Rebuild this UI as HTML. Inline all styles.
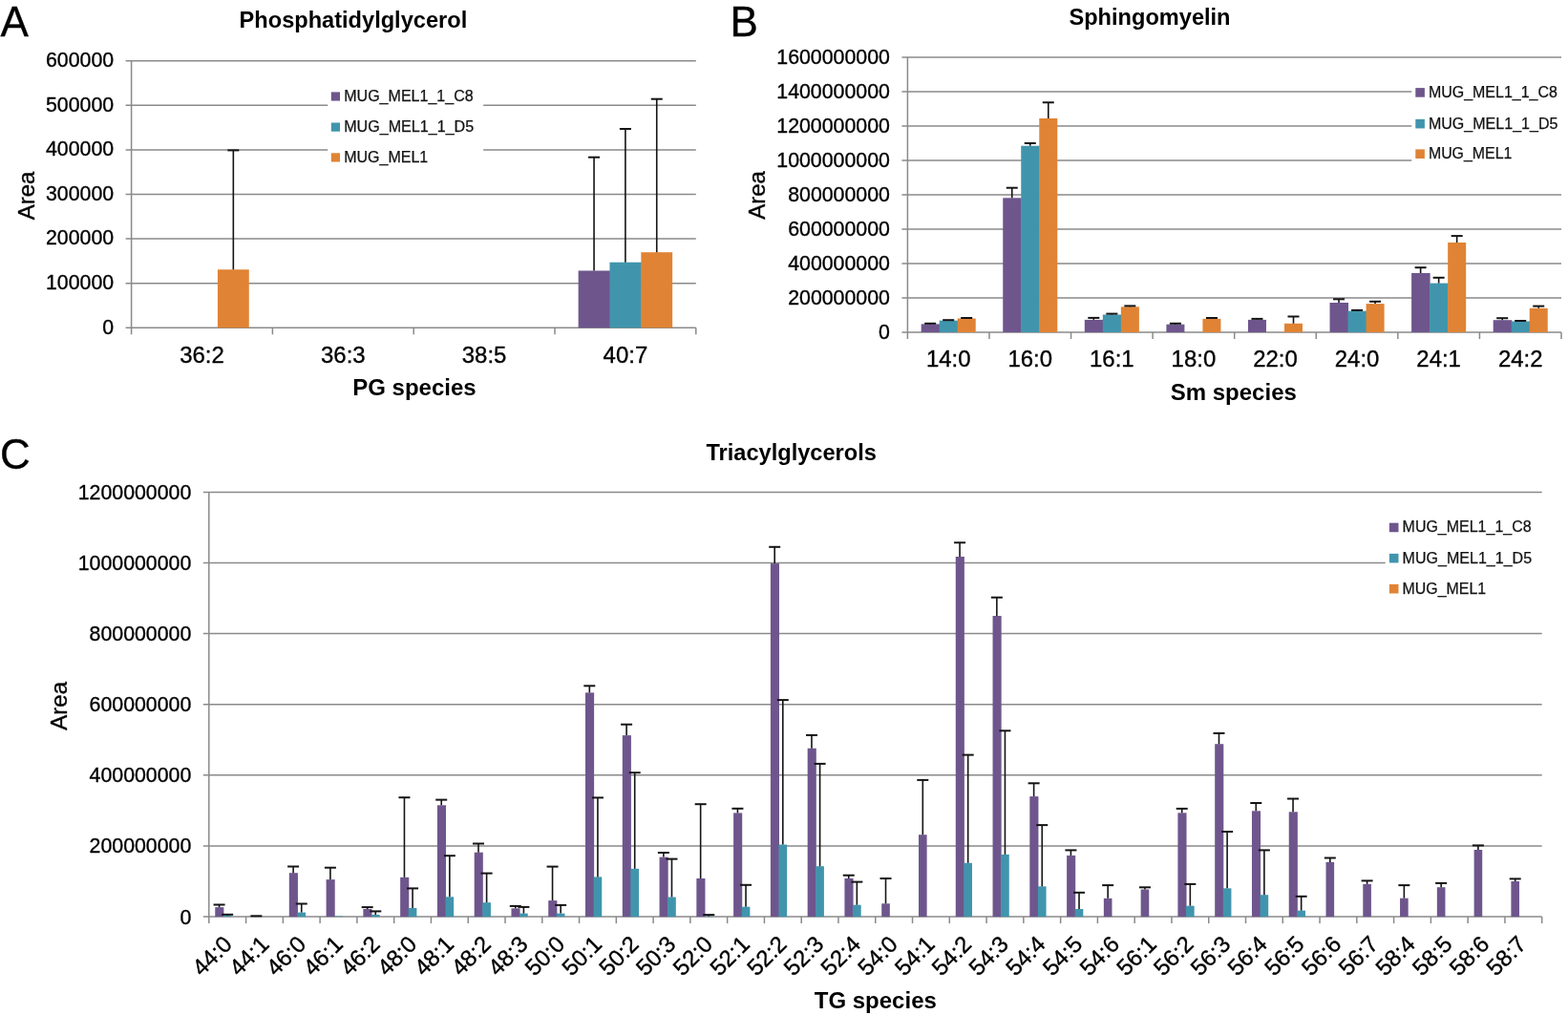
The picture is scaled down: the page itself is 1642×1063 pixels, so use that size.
<!DOCTYPE html><html><head><meta charset="utf-8"><title>Lipid species figure</title><style>html,body{margin:0;padding:0;background:#fff;width:1642px;height:1063px;overflow:hidden}svg{display:block}text{font-family:"Liberation Sans",Arial,sans-serif;fill:#000}.t,.tx,.tr,.ax,.p{stroke:#000;stroke-width:0.35px}.t{font-size:22px}.tx{font-size:24.2px}.tr{font-size:24px}.b{font-size:24px;font-weight:bold}.bt{font-size:23.6px;font-weight:bold}.ax{font-size:24px}.p{font-size:44px}.l{font-size:16px;fill:#111;stroke:#111;stroke-width:0.25px}.g{stroke:#8a8a8a;stroke-width:1.5;fill:none}.e{stroke:#141414;stroke-width:1.6}.ec{stroke:#141414;stroke-width:2}</style></head><body>
<svg width="1642" height="1063" viewBox="0 0 1642 1063">
<rect width="1642" height="1063" fill="#fff"/>
<line x1="131.6" y1="296.7" x2="728.8" y2="296.7" class="g"/>
<line x1="131.6" y1="250.1" x2="728.8" y2="250.1" class="g"/>
<line x1="131.6" y1="203.5" x2="728.8" y2="203.5" class="g"/>
<line x1="131.6" y1="156.9" x2="728.8" y2="156.9" class="g"/>
<line x1="131.6" y1="110.3" x2="728.8" y2="110.3" class="g"/>
<line x1="131.6" y1="63.7" x2="728.8" y2="63.7" class="g"/>
<line x1="131.6" y1="343.3" x2="728.8" y2="343.3" class="g"/>
<line x1="137.6" y1="63.7" x2="137.6" y2="350.3" class="g"/>
<line x1="285.4" y1="343.3" x2="285.4" y2="350.3" class="g"/>
<line x1="433.2" y1="343.3" x2="433.2" y2="350.3" class="g"/>
<line x1="581" y1="343.3" x2="581" y2="350.3" class="g"/>
<line x1="728.8" y1="343.3" x2="728.8" y2="350.3" class="g"/>
<text transform="translate(119.1 349.5) scale(0.97 1)" class="t" text-anchor="end">0</text>
<text transform="translate(119.1 302.9) scale(0.97 1)" class="t" text-anchor="end">100000</text>
<text transform="translate(119.1 256.3) scale(0.97 1)" class="t" text-anchor="end">200000</text>
<text transform="translate(119.1 209.7) scale(0.97 1)" class="t" text-anchor="end">300000</text>
<text transform="translate(119.1 163.1) scale(0.97 1)" class="t" text-anchor="end">400000</text>
<text transform="translate(119.1 116.5) scale(0.97 1)" class="t" text-anchor="end">500000</text>
<text transform="translate(119.1 69.9) scale(0.97 1)" class="t" text-anchor="end">600000</text>
<rect x="227.92" y="282.3" width="32.84" height="61" fill="#e08334"/>
<line x1="244.34" y1="282.3" x2="244.34" y2="157.4" class="e"/>
<line x1="238.34" y1="157.4" x2="250.34" y2="157.4" class="ec"/>
<rect x="605.63" y="283.5" width="33.34" height="59.8" fill="#6e568d"/>
<line x1="622.06" y1="283.5" x2="622.06" y2="164.7" class="e"/>
<line x1="616.06" y1="164.7" x2="628.06" y2="164.7" class="ec"/>
<rect x="638.48" y="274.7" width="33.34" height="68.6" fill="#4095ad"/>
<line x1="654.9" y1="274.7" x2="654.9" y2="135" class="e"/>
<line x1="648.9" y1="135" x2="660.9" y2="135" class="ec"/>
<rect x="671.32" y="264.2" width="32.84" height="79.1" fill="#e08334"/>
<line x1="687.74" y1="264.2" x2="687.74" y2="103.7" class="e"/>
<line x1="681.74" y1="103.7" x2="693.74" y2="103.7" class="ec"/>
<text transform="translate(211.5 380) scale(0.99 1)" class="tx" text-anchor="middle">36:2</text>
<text transform="translate(359.3 380) scale(0.99 1)" class="tx" text-anchor="middle">36:3</text>
<text transform="translate(507.1 380) scale(0.99 1)" class="tx" text-anchor="middle">38:5</text>
<text transform="translate(654.9 380) scale(0.99 1)" class="tx" text-anchor="middle">40:7</text>
<rect x="343.2" y="80" width="163" height="105" fill="#fff"/>
<rect x="346.8" y="96.4" width="9.2" height="9.2" fill="#6e568d"/>
<text x="360.2" y="105.6" class="l" textLength="135.5" lengthAdjust="spacingAndGlyphs">MUG_MEL1_1_C8</text>
<rect x="346.8" y="128.5" width="9.2" height="9.2" fill="#4095ad"/>
<text x="360.2" y="137.7" class="l" textLength="136" lengthAdjust="spacingAndGlyphs">MUG_MEL1_1_D5</text>
<rect x="346.8" y="160.3" width="9.2" height="9.2" fill="#e08334"/>
<text x="360.2" y="169.5" class="l" textLength="88" lengthAdjust="spacingAndGlyphs">MUG_MEL1</text>
<text x="0.5" y="37.8" class="p">A</text>
<text x="369.9" y="29" class="bt" text-anchor="middle">Phosphatidylglycerol</text>
<text x="433.9" y="414" class="b" text-anchor="middle">PG species</text>
<text x="36.2" y="204.9" class="ax" text-anchor="middle" transform="rotate(-90 36.2 204.9)">Area</text>
<line x1="944.4" y1="312" x2="1635" y2="312" class="g"/>
<line x1="944.4" y1="276" x2="1635" y2="276" class="g"/>
<line x1="944.4" y1="240" x2="1635" y2="240" class="g"/>
<line x1="944.4" y1="204" x2="1635" y2="204" class="g"/>
<line x1="944.4" y1="168" x2="1635" y2="168" class="g"/>
<line x1="944.4" y1="132" x2="1635" y2="132" class="g"/>
<line x1="944.4" y1="96" x2="1635" y2="96" class="g"/>
<line x1="944.4" y1="60" x2="1635" y2="60" class="g"/>
<line x1="944.4" y1="348" x2="1635" y2="348" class="g"/>
<line x1="950.4" y1="60" x2="950.4" y2="355" class="g"/>
<line x1="1035.97" y1="348" x2="1035.97" y2="355" class="g"/>
<line x1="1121.55" y1="348" x2="1121.55" y2="355" class="g"/>
<line x1="1207.12" y1="348" x2="1207.12" y2="355" class="g"/>
<line x1="1292.7" y1="348" x2="1292.7" y2="355" class="g"/>
<line x1="1378.28" y1="348" x2="1378.28" y2="355" class="g"/>
<line x1="1463.85" y1="348" x2="1463.85" y2="355" class="g"/>
<line x1="1549.42" y1="348" x2="1549.42" y2="355" class="g"/>
<line x1="1635" y1="348" x2="1635" y2="355" class="g"/>
<text transform="translate(931.9 355.4) scale(0.97 1)" class="t" text-anchor="end">0</text>
<text transform="translate(931.9 319.4) scale(0.97 1)" class="t" text-anchor="end">200000000</text>
<text transform="translate(931.9 283.4) scale(0.97 1)" class="t" text-anchor="end">400000000</text>
<text transform="translate(931.9 247.4) scale(0.97 1)" class="t" text-anchor="end">600000000</text>
<text transform="translate(931.9 211.4) scale(0.97 1)" class="t" text-anchor="end">800000000</text>
<text transform="translate(931.9 175.4) scale(0.97 1)" class="t" text-anchor="end">1000000000</text>
<text transform="translate(931.9 139.4) scale(0.97 1)" class="t" text-anchor="end">1200000000</text>
<text transform="translate(931.9 103.4) scale(0.97 1)" class="t" text-anchor="end">1400000000</text>
<text transform="translate(931.9 67.4) scale(0.97 1)" class="t" text-anchor="end">1600000000</text>
<rect x="964.66" y="339.4" width="19.52" height="8.6" fill="#6e568d"/>
<line x1="974.17" y1="339.4" x2="974.17" y2="338.8" class="e"/>
<line x1="968.17" y1="338.8" x2="980.17" y2="338.8" class="ec"/>
<rect x="983.68" y="335.7" width="19.52" height="12.3" fill="#4095ad"/>
<line x1="993.19" y1="335.7" x2="993.19" y2="335.2" class="e"/>
<line x1="987.19" y1="335.2" x2="999.19" y2="335.2" class="ec"/>
<rect x="1002.7" y="333.5" width="19.02" height="14.5" fill="#e08334"/>
<line x1="1012.2" y1="333.5" x2="1012.2" y2="333" class="e"/>
<line x1="1006.2" y1="333" x2="1018.2" y2="333" class="ec"/>
<rect x="1050.24" y="207.3" width="19.52" height="140.7" fill="#6e568d"/>
<line x1="1059.75" y1="207.3" x2="1059.75" y2="196.7" class="e"/>
<line x1="1053.75" y1="196.7" x2="1065.75" y2="196.7" class="ec"/>
<rect x="1069.25" y="152.7" width="19.52" height="195.3" fill="#4095ad"/>
<line x1="1078.76" y1="152.7" x2="1078.76" y2="150" class="e"/>
<line x1="1072.76" y1="150" x2="1084.76" y2="150" class="ec"/>
<rect x="1088.27" y="124" width="19.02" height="224" fill="#e08334"/>
<line x1="1097.78" y1="124" x2="1097.78" y2="107.3" class="e"/>
<line x1="1091.78" y1="107.3" x2="1103.78" y2="107.3" class="ec"/>
<rect x="1135.81" y="334.9" width="19.52" height="13.1" fill="#6e568d"/>
<line x1="1145.32" y1="334.9" x2="1145.32" y2="332.9" class="e"/>
<line x1="1139.32" y1="332.9" x2="1151.32" y2="332.9" class="ec"/>
<rect x="1154.83" y="329.5" width="19.52" height="18.5" fill="#4095ad"/>
<line x1="1164.34" y1="329.5" x2="1164.34" y2="328.6" class="e"/>
<line x1="1158.34" y1="328.6" x2="1170.34" y2="328.6" class="ec"/>
<rect x="1173.85" y="321.3" width="19.02" height="26.7" fill="#e08334"/>
<line x1="1183.35" y1="321.3" x2="1183.35" y2="320.4" class="e"/>
<line x1="1177.35" y1="320.4" x2="1189.35" y2="320.4" class="ec"/>
<rect x="1221.39" y="339.7" width="19.02" height="8.3" fill="#6e568d"/>
<line x1="1230.9" y1="339.7" x2="1230.9" y2="338.8" class="e"/>
<line x1="1224.9" y1="338.8" x2="1236.9" y2="338.8" class="ec"/>
<rect x="1259.42" y="333.9" width="19.02" height="14.1" fill="#e08334"/>
<line x1="1268.93" y1="333.9" x2="1268.93" y2="333" class="e"/>
<line x1="1262.93" y1="333" x2="1274.93" y2="333" class="ec"/>
<rect x="1306.96" y="334.9" width="19.02" height="13.1" fill="#6e568d"/>
<line x1="1316.47" y1="334.9" x2="1316.47" y2="333.9" class="e"/>
<line x1="1310.47" y1="333.9" x2="1322.47" y2="333.9" class="ec"/>
<rect x="1345" y="338.8" width="19.02" height="9.2" fill="#e08334"/>
<line x1="1354.5" y1="338.8" x2="1354.5" y2="331.5" class="e"/>
<line x1="1348.5" y1="331.5" x2="1360.5" y2="331.5" class="ec"/>
<rect x="1392.54" y="317" width="19.52" height="31" fill="#6e568d"/>
<line x1="1402.05" y1="317" x2="1402.05" y2="313.3" class="e"/>
<line x1="1396.05" y1="313.3" x2="1408.05" y2="313.3" class="ec"/>
<rect x="1411.55" y="325.7" width="19.52" height="22.3" fill="#4095ad"/>
<line x1="1421.06" y1="325.7" x2="1421.06" y2="324.9" class="e"/>
<line x1="1415.06" y1="324.9" x2="1427.06" y2="324.9" class="ec"/>
<rect x="1430.57" y="318.1" width="19.02" height="29.9" fill="#e08334"/>
<line x1="1440.08" y1="318.1" x2="1440.08" y2="315.8" class="e"/>
<line x1="1434.08" y1="315.8" x2="1446.08" y2="315.8" class="ec"/>
<rect x="1478.11" y="286" width="19.52" height="62" fill="#6e568d"/>
<line x1="1487.62" y1="286" x2="1487.62" y2="280.2" class="e"/>
<line x1="1481.62" y1="280.2" x2="1493.62" y2="280.2" class="ec"/>
<rect x="1497.13" y="296.6" width="19.52" height="51.4" fill="#4095ad"/>
<line x1="1506.64" y1="296.6" x2="1506.64" y2="290.8" class="e"/>
<line x1="1500.64" y1="290.8" x2="1512.64" y2="290.8" class="ec"/>
<rect x="1516.15" y="254" width="19.02" height="94" fill="#e08334"/>
<line x1="1525.65" y1="254" x2="1525.65" y2="247.1" class="e"/>
<line x1="1519.65" y1="247.1" x2="1531.65" y2="247.1" class="ec"/>
<rect x="1563.69" y="335.2" width="19.52" height="12.8" fill="#6e568d"/>
<line x1="1573.2" y1="335.2" x2="1573.2" y2="333.2" class="e"/>
<line x1="1567.2" y1="333.2" x2="1579.2" y2="333.2" class="ec"/>
<rect x="1582.7" y="336.5" width="19.52" height="11.5" fill="#4095ad"/>
<line x1="1592.21" y1="336.5" x2="1592.21" y2="336" class="e"/>
<line x1="1586.21" y1="336" x2="1598.21" y2="336" class="ec"/>
<rect x="1601.72" y="322.8" width="19.02" height="25.2" fill="#e08334"/>
<line x1="1611.23" y1="322.8" x2="1611.23" y2="320.6" class="e"/>
<line x1="1605.23" y1="320.6" x2="1617.23" y2="320.6" class="ec"/>
<text transform="translate(993.19 384.2) scale(0.99 1)" class="tx" text-anchor="middle">14:0</text>
<text transform="translate(1078.76 384.2) scale(0.99 1)" class="tx" text-anchor="middle">16:0</text>
<text transform="translate(1164.34 384.2) scale(0.99 1)" class="tx" text-anchor="middle">16:1</text>
<text transform="translate(1249.91 384.2) scale(0.99 1)" class="tx" text-anchor="middle">18:0</text>
<text transform="translate(1335.49 384.2) scale(0.99 1)" class="tx" text-anchor="middle">22:0</text>
<text transform="translate(1421.06 384.2) scale(0.99 1)" class="tx" text-anchor="middle">24:0</text>
<text transform="translate(1506.64 384.2) scale(0.99 1)" class="tx" text-anchor="middle">24:1</text>
<text transform="translate(1592.21 384.2) scale(0.99 1)" class="tx" text-anchor="middle">24:2</text>
<rect x="1478.3" y="75" width="163.7" height="105" fill="#fff"/>
<rect x="1482.3" y="92.1" width="9.6" height="9.6" fill="#6e568d"/>
<text x="1495.9" y="102" class="l" textLength="135" lengthAdjust="spacingAndGlyphs">MUG_MEL1_1_C8</text>
<rect x="1482.3" y="124.85" width="9.6" height="9.6" fill="#4095ad"/>
<text x="1495.9" y="134.75" class="l" textLength="135.5" lengthAdjust="spacingAndGlyphs">MUG_MEL1_1_D5</text>
<rect x="1482.3" y="156.4" width="9.6" height="9.6" fill="#e08334"/>
<text x="1495.9" y="166.3" class="l" textLength="87.5" lengthAdjust="spacingAndGlyphs">MUG_MEL1</text>
<text x="764.5" y="37.8" class="p">B</text>
<text x="1204" y="25.8" class="bt" text-anchor="middle">Sphingomyelin</text>
<text x="1291.8" y="418.9" class="b" text-anchor="middle">Sm species</text>
<text x="801.3" y="204.5" class="ax" text-anchor="middle" transform="rotate(-90 801.3 204.5)">Area</text>
<line x1="212.8" y1="885.98" x2="1614.7" y2="885.98" class="g"/>
<line x1="212.8" y1="811.86" x2="1614.7" y2="811.86" class="g"/>
<line x1="212.8" y1="737.74" x2="1614.7" y2="737.74" class="g"/>
<line x1="212.8" y1="663.62" x2="1614.7" y2="663.62" class="g"/>
<line x1="212.8" y1="589.5" x2="1614.7" y2="589.5" class="g"/>
<line x1="212.8" y1="515.38" x2="1614.7" y2="515.38" class="g"/>
<line x1="212.8" y1="960.1" x2="1614.7" y2="960.1" class="g"/>
<line x1="218.8" y1="515.38" x2="218.8" y2="967.1" class="g"/>
<line x1="257.58" y1="960.1" x2="257.58" y2="967.1" class="g"/>
<line x1="296.35" y1="960.1" x2="296.35" y2="967.1" class="g"/>
<line x1="335.12" y1="960.1" x2="335.12" y2="967.1" class="g"/>
<line x1="373.9" y1="960.1" x2="373.9" y2="967.1" class="g"/>
<line x1="412.68" y1="960.1" x2="412.68" y2="967.1" class="g"/>
<line x1="451.45" y1="960.1" x2="451.45" y2="967.1" class="g"/>
<line x1="490.23" y1="960.1" x2="490.23" y2="967.1" class="g"/>
<line x1="529" y1="960.1" x2="529" y2="967.1" class="g"/>
<line x1="567.78" y1="960.1" x2="567.78" y2="967.1" class="g"/>
<line x1="606.55" y1="960.1" x2="606.55" y2="967.1" class="g"/>
<line x1="645.33" y1="960.1" x2="645.33" y2="967.1" class="g"/>
<line x1="684.1" y1="960.1" x2="684.1" y2="967.1" class="g"/>
<line x1="722.88" y1="960.1" x2="722.88" y2="967.1" class="g"/>
<line x1="761.65" y1="960.1" x2="761.65" y2="967.1" class="g"/>
<line x1="800.43" y1="960.1" x2="800.43" y2="967.1" class="g"/>
<line x1="839.2" y1="960.1" x2="839.2" y2="967.1" class="g"/>
<line x1="877.98" y1="960.1" x2="877.98" y2="967.1" class="g"/>
<line x1="916.75" y1="960.1" x2="916.75" y2="967.1" class="g"/>
<line x1="955.53" y1="960.1" x2="955.53" y2="967.1" class="g"/>
<line x1="994.3" y1="960.1" x2="994.3" y2="967.1" class="g"/>
<line x1="1033.08" y1="960.1" x2="1033.08" y2="967.1" class="g"/>
<line x1="1071.85" y1="960.1" x2="1071.85" y2="967.1" class="g"/>
<line x1="1110.63" y1="960.1" x2="1110.63" y2="967.1" class="g"/>
<line x1="1149.4" y1="960.1" x2="1149.4" y2="967.1" class="g"/>
<line x1="1188.18" y1="960.1" x2="1188.18" y2="967.1" class="g"/>
<line x1="1226.95" y1="960.1" x2="1226.95" y2="967.1" class="g"/>
<line x1="1265.73" y1="960.1" x2="1265.73" y2="967.1" class="g"/>
<line x1="1304.5" y1="960.1" x2="1304.5" y2="967.1" class="g"/>
<line x1="1343.28" y1="960.1" x2="1343.28" y2="967.1" class="g"/>
<line x1="1382.05" y1="960.1" x2="1382.05" y2="967.1" class="g"/>
<line x1="1420.83" y1="960.1" x2="1420.83" y2="967.1" class="g"/>
<line x1="1459.6" y1="960.1" x2="1459.6" y2="967.1" class="g"/>
<line x1="1498.38" y1="960.1" x2="1498.38" y2="967.1" class="g"/>
<line x1="1537.15" y1="960.1" x2="1537.15" y2="967.1" class="g"/>
<line x1="1575.93" y1="960.1" x2="1575.93" y2="967.1" class="g"/>
<line x1="1614.7" y1="960.1" x2="1614.7" y2="967.1" class="g"/>
<text transform="translate(200.3 967.6) scale(0.97 1)" class="t" text-anchor="end">0</text>
<text transform="translate(200.3 893.48) scale(0.97 1)" class="t" text-anchor="end">200000000</text>
<text transform="translate(200.3 819.36) scale(0.97 1)" class="t" text-anchor="end">400000000</text>
<text transform="translate(200.3 745.24) scale(0.97 1)" class="t" text-anchor="end">600000000</text>
<text transform="translate(200.3 671.12) scale(0.97 1)" class="t" text-anchor="end">800000000</text>
<text transform="translate(200.3 597) scale(0.97 1)" class="t" text-anchor="end">1000000000</text>
<text transform="translate(200.3 522.88) scale(0.97 1)" class="t" text-anchor="end">1200000000</text>
<rect x="225.26" y="950.1" width="9.12" height="10" fill="#6e568d"/>
<line x1="229.57" y1="950.1" x2="229.57" y2="947.5" class="e"/>
<line x1="223.57" y1="947.5" x2="235.57" y2="947.5" class="ec"/>
<rect x="233.88" y="958.7" width="8.62" height="1.4" fill="#4095ad"/>
<line x1="238.19" y1="958.7" x2="238.19" y2="957.8" class="e"/>
<line x1="232.19" y1="957.8" x2="244.19" y2="957.8" class="ec"/>
<rect x="264.04" y="959.7" width="8.62" height="0.4" fill="#6e568d"/>
<line x1="268.35" y1="959.7" x2="268.35" y2="959.3" class="e"/>
<line x1="262.35" y1="959.3" x2="274.35" y2="959.3" class="ec"/>
<rect x="302.81" y="914.2" width="9.12" height="45.9" fill="#6e568d"/>
<line x1="307.12" y1="914.2" x2="307.12" y2="907.5" class="e"/>
<line x1="301.12" y1="907.5" x2="313.12" y2="907.5" class="ec"/>
<rect x="311.43" y="955.6" width="8.62" height="4.5" fill="#4095ad"/>
<line x1="315.74" y1="955.6" x2="315.74" y2="946.5" class="e"/>
<line x1="309.74" y1="946.5" x2="321.74" y2="946.5" class="ec"/>
<rect x="341.59" y="921.1" width="9.12" height="39" fill="#6e568d"/>
<line x1="345.9" y1="921.1" x2="345.9" y2="908.7" class="e"/>
<line x1="339.9" y1="908.7" x2="351.9" y2="908.7" class="ec"/>
<rect x="350.2" y="959.5" width="8.62" height="0.6" fill="#4095ad"/>
<rect x="380.36" y="952" width="9.12" height="8.1" fill="#6e568d"/>
<line x1="384.67" y1="952" x2="384.67" y2="950.1" class="e"/>
<line x1="378.67" y1="950.1" x2="390.67" y2="950.1" class="ec"/>
<rect x="388.98" y="958" width="8.62" height="2.1" fill="#4095ad"/>
<line x1="393.29" y1="958" x2="393.29" y2="954.4" class="e"/>
<line x1="387.29" y1="954.4" x2="399.29" y2="954.4" class="ec"/>
<rect x="419.14" y="918.8" width="9.12" height="41.3" fill="#6e568d"/>
<line x1="423.45" y1="918.8" x2="423.45" y2="835.2" class="e"/>
<line x1="417.45" y1="835.2" x2="429.45" y2="835.2" class="ec"/>
<rect x="427.75" y="951" width="8.62" height="9.1" fill="#4095ad"/>
<line x1="432.06" y1="951" x2="432.06" y2="930.4" class="e"/>
<line x1="426.06" y1="930.4" x2="438.06" y2="930.4" class="ec"/>
<rect x="457.91" y="843.3" width="9.12" height="116.8" fill="#6e568d"/>
<line x1="462.22" y1="843.3" x2="462.22" y2="837.6" class="e"/>
<line x1="456.22" y1="837.6" x2="468.22" y2="837.6" class="ec"/>
<rect x="466.53" y="939.3" width="8.62" height="20.8" fill="#4095ad"/>
<line x1="470.84" y1="939.3" x2="470.84" y2="896.2" class="e"/>
<line x1="464.84" y1="896.2" x2="476.84" y2="896.2" class="ec"/>
<rect x="496.69" y="892.7" width="9.12" height="67.4" fill="#6e568d"/>
<line x1="501" y1="892.7" x2="501" y2="883.5" class="e"/>
<line x1="495" y1="883.5" x2="507" y2="883.5" class="ec"/>
<rect x="505.3" y="945.2" width="8.62" height="14.9" fill="#4095ad"/>
<line x1="509.61" y1="945.2" x2="509.61" y2="914.6" class="e"/>
<line x1="503.61" y1="914.6" x2="515.61" y2="914.6" class="ec"/>
<rect x="535.46" y="951.3" width="9.12" height="8.8" fill="#6e568d"/>
<line x1="539.77" y1="951.3" x2="539.77" y2="948.9" class="e"/>
<line x1="533.77" y1="948.9" x2="545.77" y2="948.9" class="ec"/>
<rect x="544.08" y="956.6" width="8.62" height="3.5" fill="#4095ad"/>
<line x1="548.39" y1="956.6" x2="548.39" y2="949.9" class="e"/>
<line x1="542.39" y1="949.9" x2="554.39" y2="949.9" class="ec"/>
<rect x="574.24" y="943.1" width="9.12" height="17" fill="#6e568d"/>
<line x1="578.55" y1="943.1" x2="578.55" y2="907.6" class="e"/>
<line x1="572.55" y1="907.6" x2="584.55" y2="907.6" class="ec"/>
<rect x="582.85" y="956.6" width="8.62" height="3.5" fill="#4095ad"/>
<line x1="587.16" y1="956.6" x2="587.16" y2="947.9" class="e"/>
<line x1="581.16" y1="947.9" x2="593.16" y2="947.9" class="ec"/>
<rect x="613.01" y="725.4" width="9.12" height="234.7" fill="#6e568d"/>
<line x1="617.32" y1="725.4" x2="617.32" y2="718.3" class="e"/>
<line x1="611.32" y1="718.3" x2="623.32" y2="718.3" class="ec"/>
<rect x="621.63" y="918.4" width="8.62" height="41.7" fill="#4095ad"/>
<line x1="625.94" y1="918.4" x2="625.94" y2="835.4" class="e"/>
<line x1="619.94" y1="835.4" x2="631.94" y2="835.4" class="ec"/>
<rect x="651.79" y="770.1" width="9.12" height="190" fill="#6e568d"/>
<line x1="656.1" y1="770.1" x2="656.1" y2="758.7" class="e"/>
<line x1="650.1" y1="758.7" x2="662.1" y2="758.7" class="ec"/>
<rect x="660.4" y="909.8" width="8.62" height="50.3" fill="#4095ad"/>
<line x1="664.71" y1="909.8" x2="664.71" y2="809.2" class="e"/>
<line x1="658.71" y1="809.2" x2="670.71" y2="809.2" class="ec"/>
<rect x="690.56" y="897.6" width="9.12" height="62.5" fill="#6e568d"/>
<line x1="694.87" y1="897.6" x2="694.87" y2="893" class="e"/>
<line x1="688.87" y1="893" x2="700.87" y2="893" class="ec"/>
<rect x="699.18" y="939.5" width="8.62" height="20.6" fill="#4095ad"/>
<line x1="703.49" y1="939.5" x2="703.49" y2="899.6" class="e"/>
<line x1="697.49" y1="899.6" x2="709.49" y2="899.6" class="ec"/>
<rect x="729.34" y="920" width="9.12" height="40.1" fill="#6e568d"/>
<line x1="733.65" y1="920" x2="733.65" y2="842.2" class="e"/>
<line x1="727.65" y1="842.2" x2="739.65" y2="842.2" class="ec"/>
<rect x="737.95" y="959.6" width="8.62" height="0.5" fill="#4095ad"/>
<line x1="742.26" y1="959.6" x2="742.26" y2="958.1" class="e"/>
<line x1="736.26" y1="958.1" x2="748.26" y2="958.1" class="ec"/>
<rect x="768.11" y="851.4" width="9.12" height="108.7" fill="#6e568d"/>
<line x1="772.42" y1="851.4" x2="772.42" y2="846.8" class="e"/>
<line x1="766.42" y1="846.8" x2="778.42" y2="846.8" class="ec"/>
<rect x="776.73" y="949.7" width="8.62" height="10.4" fill="#4095ad"/>
<line x1="781.04" y1="949.7" x2="781.04" y2="926.8" class="e"/>
<line x1="775.04" y1="926.8" x2="787.04" y2="926.8" class="ec"/>
<rect x="806.89" y="590.1" width="9.12" height="370" fill="#6e568d"/>
<line x1="811.2" y1="590.1" x2="811.2" y2="572.8" class="e"/>
<line x1="805.2" y1="572.8" x2="817.2" y2="572.8" class="ec"/>
<rect x="815.5" y="884.5" width="8.62" height="75.6" fill="#4095ad"/>
<line x1="819.81" y1="884.5" x2="819.81" y2="733.1" class="e"/>
<line x1="813.81" y1="733.1" x2="825.81" y2="733.1" class="ec"/>
<rect x="845.66" y="783.7" width="9.12" height="176.4" fill="#6e568d"/>
<line x1="849.97" y1="783.7" x2="849.97" y2="769.9" class="e"/>
<line x1="843.97" y1="769.9" x2="855.97" y2="769.9" class="ec"/>
<rect x="854.28" y="907.2" width="8.62" height="52.9" fill="#4095ad"/>
<line x1="858.59" y1="907.2" x2="858.59" y2="799.9" class="e"/>
<line x1="852.59" y1="799.9" x2="864.59" y2="799.9" class="ec"/>
<rect x="884.44" y="920" width="9.12" height="40.1" fill="#6e568d"/>
<line x1="888.75" y1="920" x2="888.75" y2="916.7" class="e"/>
<line x1="882.75" y1="916.7" x2="894.75" y2="916.7" class="ec"/>
<rect x="893.05" y="947.7" width="8.62" height="12.4" fill="#4095ad"/>
<line x1="897.36" y1="947.7" x2="897.36" y2="923.6" class="e"/>
<line x1="891.36" y1="923.6" x2="903.36" y2="923.6" class="ec"/>
<rect x="923.21" y="946.3" width="8.62" height="13.8" fill="#6e568d"/>
<line x1="927.52" y1="946.3" x2="927.52" y2="920" class="e"/>
<line x1="921.52" y1="920" x2="933.52" y2="920" class="ec"/>
<rect x="961.99" y="874.2" width="8.62" height="85.9" fill="#6e568d"/>
<line x1="966.3" y1="874.2" x2="966.3" y2="816.9" class="e"/>
<line x1="960.3" y1="816.9" x2="972.3" y2="816.9" class="ec"/>
<rect x="1000.76" y="583" width="9.12" height="377.1" fill="#6e568d"/>
<line x1="1005.07" y1="583" x2="1005.07" y2="568.3" class="e"/>
<line x1="999.07" y1="568.3" x2="1011.07" y2="568.3" class="ec"/>
<rect x="1009.38" y="903.8" width="8.62" height="56.3" fill="#4095ad"/>
<line x1="1013.69" y1="903.8" x2="1013.69" y2="790.6" class="e"/>
<line x1="1007.69" y1="790.6" x2="1019.69" y2="790.6" class="ec"/>
<rect x="1039.54" y="645" width="9.12" height="315.1" fill="#6e568d"/>
<line x1="1043.85" y1="645" x2="1043.85" y2="625.7" class="e"/>
<line x1="1037.85" y1="625.7" x2="1049.85" y2="625.7" class="ec"/>
<rect x="1048.15" y="894.9" width="8.62" height="65.2" fill="#4095ad"/>
<line x1="1052.46" y1="894.9" x2="1052.46" y2="765.3" class="e"/>
<line x1="1046.46" y1="765.3" x2="1058.46" y2="765.3" class="ec"/>
<rect x="1078.31" y="834.1" width="9.12" height="126" fill="#6e568d"/>
<line x1="1082.62" y1="834.1" x2="1082.62" y2="820.3" class="e"/>
<line x1="1076.62" y1="820.3" x2="1088.62" y2="820.3" class="ec"/>
<rect x="1086.93" y="928.3" width="8.62" height="31.8" fill="#4095ad"/>
<line x1="1091.24" y1="928.3" x2="1091.24" y2="864.1" class="e"/>
<line x1="1085.24" y1="864.1" x2="1097.24" y2="864.1" class="ec"/>
<rect x="1117.09" y="895.9" width="9.12" height="64.2" fill="#6e568d"/>
<line x1="1121.4" y1="895.9" x2="1121.4" y2="890.4" class="e"/>
<line x1="1115.4" y1="890.4" x2="1127.4" y2="890.4" class="ec"/>
<rect x="1125.7" y="952" width="8.62" height="8.1" fill="#4095ad"/>
<line x1="1130.01" y1="952" x2="1130.01" y2="934.8" class="e"/>
<line x1="1124.01" y1="934.8" x2="1136.01" y2="934.8" class="ec"/>
<rect x="1155.86" y="940.8" width="8.62" height="19.3" fill="#6e568d"/>
<line x1="1160.17" y1="940.8" x2="1160.17" y2="927.1" class="e"/>
<line x1="1154.17" y1="927.1" x2="1166.17" y2="927.1" class="ec"/>
<rect x="1194.64" y="931.5" width="8.62" height="28.6" fill="#6e568d"/>
<line x1="1198.95" y1="931.5" x2="1198.95" y2="929.3" class="e"/>
<line x1="1192.95" y1="929.3" x2="1204.95" y2="929.3" class="ec"/>
<rect x="1233.41" y="851.3" width="9.12" height="108.8" fill="#6e568d"/>
<line x1="1237.72" y1="851.3" x2="1237.72" y2="846.9" class="e"/>
<line x1="1231.72" y1="846.9" x2="1243.72" y2="846.9" class="ec"/>
<rect x="1242.03" y="948.7" width="8.62" height="11.4" fill="#4095ad"/>
<line x1="1246.34" y1="948.7" x2="1246.34" y2="925.9" class="e"/>
<line x1="1240.34" y1="925.9" x2="1252.34" y2="925.9" class="ec"/>
<rect x="1272.19" y="779.2" width="9.12" height="180.9" fill="#6e568d"/>
<line x1="1276.5" y1="779.2" x2="1276.5" y2="767.9" class="e"/>
<line x1="1270.5" y1="767.9" x2="1282.5" y2="767.9" class="ec"/>
<rect x="1280.8" y="930.3" width="8.62" height="29.8" fill="#4095ad"/>
<line x1="1285.11" y1="930.3" x2="1285.11" y2="871" class="e"/>
<line x1="1279.11" y1="871" x2="1291.11" y2="871" class="ec"/>
<rect x="1310.96" y="849.3" width="9.12" height="110.8" fill="#6e568d"/>
<line x1="1315.27" y1="849.3" x2="1315.27" y2="841" class="e"/>
<line x1="1309.27" y1="841" x2="1321.27" y2="841" class="ec"/>
<rect x="1319.58" y="937.2" width="8.62" height="22.9" fill="#4095ad"/>
<line x1="1323.89" y1="937.2" x2="1323.89" y2="890.4" class="e"/>
<line x1="1317.89" y1="890.4" x2="1329.89" y2="890.4" class="ec"/>
<rect x="1349.74" y="850.3" width="9.12" height="109.8" fill="#6e568d"/>
<line x1="1354.05" y1="850.3" x2="1354.05" y2="836.5" class="e"/>
<line x1="1348.05" y1="836.5" x2="1360.05" y2="836.5" class="ec"/>
<rect x="1358.35" y="953.6" width="8.62" height="6.5" fill="#4095ad"/>
<line x1="1362.66" y1="953.6" x2="1362.66" y2="938.8" class="e"/>
<line x1="1356.66" y1="938.8" x2="1368.66" y2="938.8" class="ec"/>
<rect x="1388.51" y="902.9" width="8.62" height="57.2" fill="#6e568d"/>
<line x1="1392.82" y1="902.9" x2="1392.82" y2="898.5" class="e"/>
<line x1="1386.82" y1="898.5" x2="1398.82" y2="898.5" class="ec"/>
<rect x="1427.29" y="925.9" width="8.62" height="34.2" fill="#6e568d"/>
<line x1="1431.6" y1="925.9" x2="1431.6" y2="922.4" class="e"/>
<line x1="1425.6" y1="922.4" x2="1437.6" y2="922.4" class="ec"/>
<rect x="1466.06" y="940.7" width="8.62" height="19.4" fill="#6e568d"/>
<line x1="1470.37" y1="940.7" x2="1470.37" y2="927.1" class="e"/>
<line x1="1464.37" y1="927.1" x2="1476.37" y2="927.1" class="ec"/>
<rect x="1504.84" y="929.2" width="8.62" height="30.9" fill="#6e568d"/>
<line x1="1509.15" y1="929.2" x2="1509.15" y2="924.9" class="e"/>
<line x1="1503.15" y1="924.9" x2="1515.15" y2="924.9" class="ec"/>
<rect x="1543.61" y="890" width="8.62" height="70.1" fill="#6e568d"/>
<line x1="1547.92" y1="890" x2="1547.92" y2="885.4" class="e"/>
<line x1="1541.92" y1="885.4" x2="1553.92" y2="885.4" class="ec"/>
<rect x="1582.39" y="923" width="8.62" height="37.1" fill="#6e568d"/>
<line x1="1586.7" y1="923" x2="1586.7" y2="920.4" class="e"/>
<line x1="1580.7" y1="920.4" x2="1592.7" y2="920.4" class="ec"/>
<text x="244.4" y="990.3" class="tr" text-anchor="end" transform="rotate(-45 244.4 990.3)">44:0</text>
<text x="283.12" y="990.3" class="tr" text-anchor="end" transform="rotate(-45 283.12 990.3)">44:1</text>
<text x="321.84" y="990.3" class="tr" text-anchor="end" transform="rotate(-45 321.84 990.3)">46:0</text>
<text x="360.56" y="990.3" class="tr" text-anchor="end" transform="rotate(-45 360.56 990.3)">46:1</text>
<text x="399.28" y="990.3" class="tr" text-anchor="end" transform="rotate(-45 399.28 990.3)">46:2</text>
<text x="438" y="990.3" class="tr" text-anchor="end" transform="rotate(-45 438 990.3)">48:0</text>
<text x="476.72" y="990.3" class="tr" text-anchor="end" transform="rotate(-45 476.72 990.3)">48:1</text>
<text x="515.44" y="990.3" class="tr" text-anchor="end" transform="rotate(-45 515.44 990.3)">48:2</text>
<text x="554.16" y="990.3" class="tr" text-anchor="end" transform="rotate(-45 554.16 990.3)">48:3</text>
<text x="592.88" y="990.3" class="tr" text-anchor="end" transform="rotate(-45 592.88 990.3)">50:0</text>
<text x="631.6" y="990.3" class="tr" text-anchor="end" transform="rotate(-45 631.6 990.3)">50:1</text>
<text x="670.32" y="990.3" class="tr" text-anchor="end" transform="rotate(-45 670.32 990.3)">50:2</text>
<text x="709.04" y="990.3" class="tr" text-anchor="end" transform="rotate(-45 709.04 990.3)">50:3</text>
<text x="747.76" y="990.3" class="tr" text-anchor="end" transform="rotate(-45 747.76 990.3)">52:0</text>
<text x="786.48" y="990.3" class="tr" text-anchor="end" transform="rotate(-45 786.48 990.3)">52:1</text>
<text x="825.2" y="990.3" class="tr" text-anchor="end" transform="rotate(-45 825.2 990.3)">52:2</text>
<text x="863.92" y="990.3" class="tr" text-anchor="end" transform="rotate(-45 863.92 990.3)">52:3</text>
<text x="902.64" y="990.3" class="tr" text-anchor="end" transform="rotate(-45 902.64 990.3)">52:4</text>
<text x="941.36" y="990.3" class="tr" text-anchor="end" transform="rotate(-45 941.36 990.3)">54:0</text>
<text x="980.08" y="990.3" class="tr" text-anchor="end" transform="rotate(-45 980.08 990.3)">54:1</text>
<text x="1018.8" y="990.3" class="tr" text-anchor="end" transform="rotate(-45 1018.8 990.3)">54:2</text>
<text x="1057.52" y="990.3" class="tr" text-anchor="end" transform="rotate(-45 1057.52 990.3)">54:3</text>
<text x="1096.24" y="990.3" class="tr" text-anchor="end" transform="rotate(-45 1096.24 990.3)">54:4</text>
<text x="1134.96" y="990.3" class="tr" text-anchor="end" transform="rotate(-45 1134.96 990.3)">54:5</text>
<text x="1173.68" y="990.3" class="tr" text-anchor="end" transform="rotate(-45 1173.68 990.3)">54:6</text>
<text x="1212.4" y="990.3" class="tr" text-anchor="end" transform="rotate(-45 1212.4 990.3)">56:1</text>
<text x="1251.12" y="990.3" class="tr" text-anchor="end" transform="rotate(-45 1251.12 990.3)">56:2</text>
<text x="1289.84" y="990.3" class="tr" text-anchor="end" transform="rotate(-45 1289.84 990.3)">56:3</text>
<text x="1328.56" y="990.3" class="tr" text-anchor="end" transform="rotate(-45 1328.56 990.3)">56:4</text>
<text x="1367.28" y="990.3" class="tr" text-anchor="end" transform="rotate(-45 1367.28 990.3)">56:5</text>
<text x="1406" y="990.3" class="tr" text-anchor="end" transform="rotate(-45 1406 990.3)">56:6</text>
<text x="1444.72" y="990.3" class="tr" text-anchor="end" transform="rotate(-45 1444.72 990.3)">56:7</text>
<text x="1483.44" y="990.3" class="tr" text-anchor="end" transform="rotate(-45 1483.44 990.3)">58:4</text>
<text x="1522.16" y="990.3" class="tr" text-anchor="end" transform="rotate(-45 1522.16 990.3)">58:5</text>
<text x="1560.88" y="990.3" class="tr" text-anchor="end" transform="rotate(-45 1560.88 990.3)">58:6</text>
<text x="1599.6" y="990.3" class="tr" text-anchor="end" transform="rotate(-45 1599.6 990.3)">58:7</text>
<rect x="1450.7" y="530" width="191.3" height="110" fill="#fff"/>
<rect x="1454.9" y="547.65" width="9.6" height="9.6" fill="#6e568d"/>
<text x="1468.6" y="557.4" class="l" textLength="135" lengthAdjust="spacingAndGlyphs">MUG_MEL1_1_C8</text>
<rect x="1454.9" y="579.85" width="9.6" height="9.6" fill="#4095ad"/>
<text x="1468.6" y="589.6" class="l" textLength="135.5" lengthAdjust="spacingAndGlyphs">MUG_MEL1_1_D5</text>
<rect x="1454.9" y="611.9" width="9.6" height="9.6" fill="#e08334"/>
<text x="1468.6" y="621.65" class="l" textLength="87.5" lengthAdjust="spacingAndGlyphs">MUG_MEL1</text>
<text x="0" y="490.5" class="p">C</text>
<text x="828.7" y="481.6" class="bt" text-anchor="middle">Triacylglycerols</text>
<text x="916.8" y="1055.8" class="b" text-anchor="middle">TG species</text>
<text x="70" y="739.3" class="ax" text-anchor="middle" transform="rotate(-90 70 739.3)">Area</text>
</svg></body></html>
